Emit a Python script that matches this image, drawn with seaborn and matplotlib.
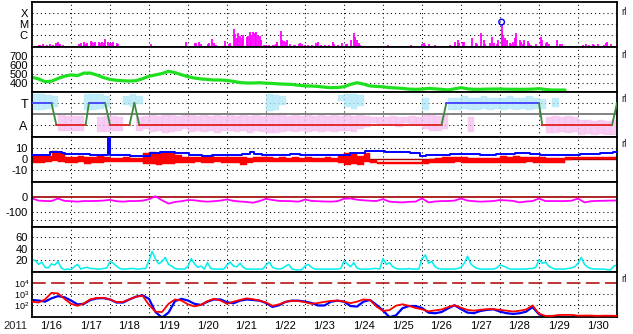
import numpy as np
import matplotlib
matplotlib.use("Agg")
import matplotlib.pyplot as plt
import seaborn as sns

sns.set_style("white")
plt.rcParams['font.family'] = ['Liberation Sans', 'DejaVu Sans']
plt.rcParams['mathtext.fontset'] = 'custom'
plt.rcParams['mathtext.rm'] = 'Liberation Sans'
plt.rcParams['mathtext.it'] = 'Liberation Sans'

nan = np.nan

# ---------------- data ----------------
year_label = "2011"
day_labels = ['1/16', '1/17', '1/18', '1/19', '1/20', '1/21', '1/22', '1/23',
              '1/24', '1/25', '1/26', '1/27', '1/28', '1/29', '1/30']
hours_4h = np.arange(0, 361, 4)      # hours since 2011-01-16 00:00
hours_2h = np.arange(0, 361, 2)
bin_left = np.arange(0, 360, 4)

# X-ray flux events (hour, W/m2)
xr_hour = [4, 5, 7, 9, 11, 13, 15, 16, 17, 19,
           29, 30, 32, 33, 34, 36, 37, 38, 39, 41, 42, 43, 44, 45, 47, 48, 49, 50, 52, 53,
           73,
           95, 100, 101, 103, 104, 108, 109, 111, 112, 113,
           119, 121, 122, 124, 125, 126, 127, 128, 129, 130, 132, 133, 134, 135, 136, 137, 138,
           139, 140, 141, 143, 144, 145, 146, 148, 149, 150, 151, 153, 154, 155, 156, 157, 159,
           161, 162, 164, 165, 166, 168, 170, 172, 175, 176, 178, 180, 183, 185, 186, 188, 191,
           193, 194, 196, 198, 199, 200, 201, 202,
           219, 233,
           240, 241, 242, 244, 248, 257, 260, 262, 263, 265, 266, 271, 273, 274, 276, 278, 279,
           282, 283, 284, 286, 287, 289, 290, 291, 292, 294, 295, 296, 297, 298, 300, 301, 302,
           303, 305, 306, 307, 310, 313, 314, 316, 317, 318, 323, 325, 326,
           339, 341, 343, 345, 346, 348, 352, 353, 354, 356]
xr_flux = [1.2e-7, 1.2e-7, 1.5e-7, 1.2e-7, 1.5e-7, 1.2e-7, 1.8e-7, 2.2e-7, 1.5e-7, 1.2e-7,
           1.5e-7, 1.8e-7, 2.2e-7, 1.5e-7, 1.8e-7, 2.8e-7, 2.2e-7, 1.8e-7, 2.2e-7, 2.2e-7,
           1.8e-7, 2.2e-7, 1.8e-7, 4.3e-7, 2.2e-7, 1.8e-7, 1.8e-7, 2.2e-7, 1.8e-7, 1.5e-7,
           1.5e-7,
           2.2e-7, 1.8e-7, 1.8e-7, 2.2e-7, 1.5e-7, 1.5e-7, 1.8e-7, 4.3e-7, 1.8e-7, 1.2e-7,
           2.8e-7, 1.5e-7, 1.8e-7, 3.5e-6, 1.2e-6, 5.2e-7, 1.5e-6, 8e-7, 5.2e-7, 1.0e-6,
           6.5e-7, 8e-7, 1.8e-6, 1.0e-6, 1.8e-6, 1.5e-6, 1.8e-6,
           8e-7, 8e-7, 3.5e-7, 1.2e-7, 1.2e-7, 1.0e-7, 1.2e-7, 1.2e-7, 1.2e-7, 1.5e-7, 2.2e-7,
           2.2e-6, 3.5e-7, 2.8e-7, 2.2e-7, 3.5e-7, 1.5e-7,
           1.2e-7, 1.2e-7, 1.5e-7, 1.8e-7, 1.5e-7, 1.2e-7, 1.2e-7, 1.2e-7, 1.8e-7, 2.2e-7,
           1.2e-7, 1.2e-7, 1.2e-7, 2.2e-7, 1.5e-7, 1.2e-7, 1.8e-7,
           1.5e-7, 1.5e-7, 3.5e-7, 1.5e-6, 6.5e-7, 3.5e-7, 1.8e-7, 1.2e-7,
           1.2e-7, 1.2e-7,
           1.5e-7, 1.8e-7, 1.2e-7, 1.5e-7, 1.2e-7, 1.2e-7, 2.2e-7, 3.5e-7, 1.8e-7, 2.2e-7,
           2.2e-7, 5.2e-7, 1.8e-7, 1.5e-7, 1.5e-6, 3.5e-7, 1.5e-7,
           1.8e-7, 6.5e-7, 1.8e-7, 1.5e-7, 3.5e-7, 8e-6, 1.0e-6, 5.2e-7, 3.5e-7, 1.8e-7,
           1.5e-7, 2.2e-7, 5.2e-7, 1.5e-6, 3.5e-7, 2.2e-7, 1.5e-7,
           3.5e-7, 2.8e-7, 1.8e-7, 1.2e-7, 1.5e-7, 6.5e-7, 3.5e-7, 1.8e-7, 2.2e-7, 1.5e-7,
           3.5e-7, 1.5e-7, 1.5e-7,
           1.2e-7, 1.5e-7, 1.2e-7, 1.5e-7, 1.2e-7, 1.5e-7, 1.2e-7, 1.8e-7, 2.2e-7, 1.5e-7]
flare_hour = [289]
flare_flux = [1.5e-5]

# Solar wind speed (km/s), 4-hour samples
speed = [465, 445, 415, 420, 450, 475, 490, 482, 510, 510,
         488, 460, 440, 430, 425, 422, 425, 448, 475, 490,
         505, 530, 515, 492, 470, 455, 445, 440, 433, 433,
         428, 418, 405, 400, 400, 403, 398, 395, 390, 387,
         384, 375, 368, 366, 362, 354, 348, 350, 358, 385,
         403, 388, 367, 362, 358, 348, 345, 340, 332, 330,
         332, 340, 335, 330, 323, 335, 348, 335, 330, 330,
         332, 333, 333, 331, 330, 330, 330, 332, 337, 328,
         322, 322, 322, nan, nan, nan, nan, nan, nan, nan, nan]

# IMF sector (T = +1, A = -1)
sector_hour = [0, 12, 15, 33, 35, 45, 48, 60, 63, 66, 252, 255, 312, 314, 357, 360]
sector_val = [1, 1, -1, -1, 1, 1, -1, -1, 1, -1, -1, 1, 1, -1, -1, 1]

# sector-angle scatter ranges per 4-hour bin
tow_hi = [1.8, 1.8, 1.7, 1.6, nan, nan,  nan, nan, 1.8, 1.8, 1.8, 1.6,
          nan, nan, 1.6, 1.8, 1.6, nan] + [nan] * 18 + \
         [1.8, 1.7, 1.6, nan, nan, nan,  nan, nan, nan, nan, nan, 1.7,
          1.8, 1.8, 1.7, nan, nan, nan,  nan, nan, nan, nan, nan, nan,
          1.45, nan, nan, nan, 1.5, 1.5,  1.6, 1.5, 1.5, 1.6, 1.5, 1.5,
          1.5, 1.6, 1.5, 1.5, 1.6, 1.5,  1.4, nan, 1.45, nan, nan, nan] + [nan] * 6
tow_lo = [0.4, 0.4, 0.5, 0.6, nan, nan,  nan, nan, 0.4, 0.4, 0.5, 0.6,
          nan, nan, 0.8, 0.6, 0.9, nan] + [nan] * 18 + \
         [0.3, 0.4, 0.8, nan, nan, nan,  nan, nan, nan, nan, nan, 1.2,
          0.6, 0.5, 0.7, nan, nan, nan,  nan, nan, nan, nan, nan, nan,
          0.4, nan, nan, nan, 0.4, 0.4,  0.5, 0.4, 0.4, 0.5, 0.4, 0.45,
          0.4, 0.5, 0.4, 0.45, 0.4, 0.5,  0.5, nan, 0.6, nan, nan, nan] + [nan] * 6
away_hi = [nan, nan, nan, nan, -0.1, -0.2,  -0.2, -0.2, nan, nan, -0.3, -0.2,
           -0.2, -0.3, nan, nan, -0.3, -0.2,  -0.1, -0.2, -0.1, 0.0, -0.2, -0.1,
           -0.1, -0.2, -0.1, -0.2, -0.1, -0.2,  -0.1, -0.2, -0.1, -0.2, -0.1, -0.2,
           0.1, 0.0, 0.1, -0.2, -0.1, -0.2,  -0.1, -0.2, -0.1, -0.2, -0.1, -0.2,
           -0.1, -0.2, -0.1, -0.2, -0.3, -0.3,  -0.3, -0.2, -0.3, -0.3, -0.2, -0.3,
           -0.1, -0.1, -0.2, -0.1, nan, nan,  nan, -0.3, nan, nan, nan, nan,
           nan, nan, nan, nan, nan, nan,  nan, -0.3, -0.2, -0.3, -0.2, -0.3,
           -0.5, -0.5, -0.6, -0.5, -0.6, -0.5]
away_lo = [nan, nan, nan, nan, -1.5, -1.5,  -1.5, -1.5, nan, nan, -1.6, -1.6,
           -1.5, -1.5, nan, nan, -1.5, -1.4,  -1.6, -1.5, -1.7, -1.6, -1.5, -1.4,
           -1.6, -1.5, -1.6, -1.5, -1.7, -1.5,  -1.5, -1.6, -1.5, -1.7, -1.5, -1.6,
           -1.7, -1.7, -1.6, -1.5, -1.6, -1.5,  -1.6, -1.5, -1.6, -1.5, -1.6, -1.5,
           -1.5, -1.6, -1.4, -1.2, -0.8, -0.9,  -1.0, -0.9, -1.2, -0.8, -0.9, -1.0,
           -1.4, -1.5, -1.5, -1.4, nan, nan,  nan, -1.6, nan, nan, nan, nan,
           nan, nan, nan, nan, nan, nan,  nan, -1.7, -1.7, -1.6, -1.7, -1.6,
           -1.9, -1.8, -1.9, -1.8, -1.9, -1.9]

# IMF Bt (nT), step samples
bt_hour = [0, 11, 18.5, 20.4, 35.8, 46.5, 47.7, 48.7, 60.2, 72.7, 78.7, 88.1, 96.7, 104.6,
           110.9, 121.9, 129.1, 134.2, 136.6, 141.6, 158.9, 164.9, 195.6, 205, 217.2, 232.6,
           238.8, 242.4, 257.3, 275.8, 285.6, 297.1, 306.5, 312.7, 321.8, 337.2, 349.4,
           357.6, 360]
bt_val = [3.6, 6.2, 5.0, 4.5, 4.0, 25, 4.0, 3.6, 3.0, 5.4, 6.6, 5.4, 3.6, 2.7,
          3.2, 3.6, 4.5, 6.0, 4.5, 3.6, 4.5, 3.6, 5.7, 7.5, 6.6, 5.4,
          2.7, 3.6, 4.2, 3.6, 4.5, 5.7, 4.5, 3.6, 3.3, 4.2, 5.0,
          6.0, 6.0]
# IMF Bz (nT) min / max per 4-hour bin
bz_hi = [2.5, 2.5, 3, 7.5, 5, 2,   2, 2.5, 1.5, 2, 2.5, 2,   1, 1, 1.5, 1, 1, 5,
         6, 5, 6, 5.5, 4, 2,   2, 1.5, 2, 2.5, 1.5, 2,   2, 2, 1.5, 1, 2, 1.5,
         1.5, 1, 1.5, 1, 1.5, 1,   1.5, 1, 1, 1.5, 1, 4,   5, 4.5, 3, 5.7, -1, -2.5,
         -2.5, -2.5, -2.5, -3, -2.5, -2.5,   -1, 0, 0.5, 2, 2, 1.5,   2, 0.5, 1, 0.5, 1, 0.5,
         2.5, 2, 2.5, 1.5, 1.5, 1.5,   2, 0.5, 0.5, 0.5, 2, 2,   2, 2, 2, 2, 2, 2]
bz_lo = [-3.5, -3.5, -3, -2, -3, -3.5,   -4, -3, -5, -3.5, -4, -3,   -3, -3, -2.5, -3, -3, -5,
         -5, -5.5, -4.5, -5, -4, -3.5,   -3.5, -3, -4, -3.5, -3, -3.5,   -4, -3.5, -5.5, -4, -3, -3,
         -3, -2.5, -3, -3, -2.5, -3,   -3, -3, -2.5, -3, -3, -4,   -5.5, -5, -5.5, -3, -4, -4.5,
         -4.5, -4.5, -4.5, -4.5, -4.5, -4.5,   -4.5, -4, -4, -3.5, -3.5, -3,   -3.5, -4, -3.5, -4, -3.5, -3.5,
         -4, -3.5, -4, -3.5, -3, -3.5,   -3.5, -4, -4, -3.5, -0.5, -0.3,   -0.3, -0.3, -0.3, -0.3, -0.3, -0.3]

# Dst (nT), 4-hour samples
dst = [-9, -24, -27, -27, -10, -26, -28, -31, -27, -27,
       -26, -24, -19, -28, -31, -27, -27, -24, -15, 5,
       -22, -44, -33, -28, -20, -22, -28, -31, -28, -24,
       -16, -26, -30, -33, -38, -27, -12, -20, -26, -27,
       -28, -31, -17, -26, -28, -30, -31, -28, -12, -10,
       -18, -22, -25, -27, -14, -31, -34, -36, -32, -31,
       -9, -36, -30, -27, -27, -24, -10, -24, -28, -31,
       -29, -27, -20, -23, -26, -36, -30, -27, -10, -27,
       -27, -27, -27, -25, -10, -36, -28, -26, -25, -24, -23]

# activity index, 2-hour samples
activity = [20, 20, 13, 17, 8, 7, 14, 12, 18, 7, 4, 5,
            4, 9, 13, 5, 7, 8, 6, 6, 5, 5, 6, 7,
            18, 15, 10, 6, 5, 5, 6, 6, 5, 5, 6, 6,
            20, 35, 22, 14, 18, 25, 13, 10, 6, 5, 5, 5,
            10, 23, 14, 8, 10, 5, 16, 6, 5, 5, 5, 5,
            12, 17, 10, 9, 15, 8, 5, 5, 5, 5, 5, 5,
            12, 17, 8, 6, 5, 6, 10, 13, 5, 4, 3.5, 4,
            10, 13, 8, 5, 5, 5, 5, 5, 5, 5, 5, 6,
            19, 14, 9, 16, 7, 5, 5, 5, 5, 6, 6, 5,
            23, 13, 16, 9, 6, 5, 5, 5, 6, 5, 5, 5,
            23, 29, 15, 18, 9, 6, 5, 5, 5, 5, 5, 6,
            8, 15, 27, 14, 9, 6, 5, 5, 5, 5, 5, 7,
            12, 10, 8, 5, 5, 5, 5, 5, 5, 6, 6, 8,
            21, 15, 17, 10, 7, 5, 5, 5, 5, 6, 7, 9,
            15, 25, 13, 8, 6, 5, 5, 5, 5, 4, 3.5, 10,
            12]

# electron flux, log10, 4-hour samples
e_red_log = [2.3, 2.22, 2.5, 3.1, 3.05, 2.55, 2.1, 1.92, 2.15, 2.52,
             2.63, 2.65, 2.5, 2.25, 2.28, 2.52, 2.75, 2.85, 2.0, 1.38,
             1.35, 2.1, 2.5, 2.4, 2.05, 1.87, 2.0, 2.35, 2.55, 2.4,
             2.1, 2.3, 2.45, 2.6, 2.52, 2.4, 2.22, 1.92, 2.05, 2.28,
             2.38, 2.36, 2.25, 2.1, 2.18, 2.28, 2.37, 2.39, 2.3, 2.16,
             2.3, 2.5, 2.45, 1.85, 1.45, 1.53, 1.93, 2.06, 1.92, 1.72,
             1.6, 1.42, 1.5, 1.58, 1.8, 1.97, 1.75, 1.54, 1.48, 1.56,
             1.61, 1.61, 1.55, 1.48, 1.4, 1.47, 1.58, 1.95, 1.2, 1.0,
             1.0, 1.08, 1.09, 1.09, 1.02, 1.03, 1.03, 1.0, 1.02, 1.02, 1.0]
e_blue_log = [2.45, 2.4, 2.3, 2.6, 2.8, 2.7, 2.4, 2.05, 2.1, 2.45,
              2.6, 2.62, 2.5, 2.22, 2.22, 2.5, 2.75, 2.88, 2.55, 1.35,
              0.85, 1.3, 2.35, 2.55, 2.4, 2.1, 2.0, 2.3, 2.5, 2.5,
              2.25, 2.15, 2.39, 2.5, 2.45, 2.39, 2.18, 1.82, 1.97, 2.28,
              2.39, 2.39, 2.3, 2.18, 1.95, 1.95, 2.3, 2.39, 2.3, 1.9,
              1.85, 2.3, 2.45, 2.0, 1.5, 0.88, 1.05, 1.7, 1.9, 1.9,
              1.72, 1.3, 1.24, 1.35, 1.68, 1.97, 1.62, 1.3, 1.25, 1.45,
              1.55, 1.6, 1.39, 1.25, 1.18, 1.24, 1.38, 1.8, 1.15, 0.88,
              0.85, 0.85, 0.85, 0.85, 0.85, 0.85, 0.85, 0.85, 0.85, 0.85, 0.85]
e_alert = 1e4

# ---------------- figure ----------------
W, H = 633, 334
fig = plt.figure(figsize=(W / 100, H / 100), dpi=100)
fig.patch.set_facecolor('white')
left_px, right_px = 32, 617
tops = [2, 47, 92, 137, 182, 227, 272]
panel_h = 45
FS = 8
dot = (0, (1, 3))


def make_ax(top):
    ax = fig.add_axes([left_px / W, 1 - (top + panel_h) / H,
                       (right_px - left_px) / W, panel_h / H])
    ax.set_xlim(0, 360)
    for s in ax.spines.values():
        s.set_color('black')
        s.set_linewidth(1.3)
    ax.tick_params(axis='both', length=0, labelsize=FS, pad=3, colors='black')
    ax.set_xticks([])
    for d in range(1, 15):
        ax.axvline(24 * d, color='black', lw=0.75, ls=dot, zorder=0.5)
    return ax


def hgrid(ax, vals):
    for v in vals:
        ax.axhline(v, color='black', lw=0.75, ls=dot, zorder=0.5)


def right_tag(ax, yval):
    ax.annotate('rl', xy=(1.0, yval), xycoords=('axes fraction', 'data'),
                xytext=(3, 1), textcoords='offset points', fontsize=7,
                va='center', ha='left')


axes = [make_ax(t) for t in tops]

# 1) X-ray
ax = axes[0]
ax.set_yscale('log')
ax.set_ylim(10 ** -7.1, 10 ** -3.0)
ax.vlines(xr_hour, 1e-9, xr_flux, color='#ff00ff', lw=1.3, zorder=2)
ax.scatter(flare_hour, flare_flux, s=16, facecolors='none', edgecolors='#0000ff',
           linewidths=1.0, zorder=3)
ax.set_yticks([1e-4, 1e-5, 1e-6], ['X', 'M', 'C'])
ax.yaxis.set_minor_locator(matplotlib.ticker.NullLocator())
hgrid(ax, [1e-4, 1e-5, 1e-6])
right_tag(ax, 1e-4)

# 2) solar wind speed
ax = axes[1]
sns.lineplot(x=hours_4h, y=speed, ax=ax, color='#1ee01e', lw=2.3, zorder=2)
ax.set_ylim(300, 800)
ax.set_yticks([700, 600, 500, 400], ['700', '600', '500', '400'])
hgrid(ax, [700, 600, 500, 400])
right_tag(ax, 700)

# 3) sector
ax = axes[2]
ax.set_ylim(-2.09, 2.0)
th = np.array(tow_hi) - np.array(tow_lo)
ax.bar(bin_left, th, bottom=tow_lo, width=4, align='edge', color='#aee6f8',
       edgecolor='#aee6f8', lw=0.3, alpha=0.75, zorder=1)
ah = np.array(away_hi) - np.array(away_lo)
ax.bar(bin_left, ah, bottom=away_lo, width=4, align='edge', color='#f6bdf0',
       edgecolor='#f6bdf0', lw=0.3, alpha=0.75, zorder=1)
ax.axhline(0, color='#808080', lw=1.4, zorder=2)
for i in range(len(sector_hour) - 1):
    v0, v1 = sector_val[i], sector_val[i + 1]
    if v0 == v1 == 1:
        c = '#4040ff'
    elif v0 == v1 == -1:
        c = '#e02020'
    else:
        c = '#3a8a3a'
    ax.plot(sector_hour[i:i + 2], sector_val[i:i + 2], color=c, lw=1.3, zorder=3)
ax.set_yticks([1, -1], ['T', 'A'])
ax.tick_params(axis='y', labelsize=9)
hgrid(ax, [1, -1])
right_tag(ax, 1.25)

# 4) IMF
ax = axes[3]
ax.set_ylim(-21, 20)
hgrid(ax, [10, -10])
ax.axhline(0, color='#a00000', lw=1.0, zorder=1)
bh = np.array(bz_hi) - np.array(bz_lo)
ax.bar(bin_left, bh, bottom=bz_lo, width=4, align='edge', color='#ff0000',
       edgecolor='#ff0000', lw=0.3, zorder=2)
sns.lineplot(x=bt_hour, y=bt_val, ax=ax, color='#0000ff', lw=1.4,
             drawstyle='steps-post', zorder=3, sort=False)
ax.set_yticks([10, 0, -10], ['10', '0', '-10'])
right_tag(ax, 12)

# 5) Dst
ax = axes[4]
ax.set_ylim(-200, 100)
hgrid(ax, [-100, -150])
ax.axhline(0, color='#a00000', lw=1.2, zorder=1)
sns.lineplot(x=hours_4h, y=dst, ax=ax, color='#ff00ff', lw=1.3, zorder=2)
ax.set_yticks([0, -100], ['0', '-100'])

# 6) activity index
ax = axes[5]
ax.set_ylim(0, 77)
hgrid(ax, [60, 40, 20])
sns.lineplot(x=hours_2h, y=activity, ax=ax, color='#00eeee', lw=1.1, zorder=2)
ax.set_yticks([60, 40, 20], ['60', '40', '20'])

# 7) electron flux
ax = axes[6]
ax.set_yscale('log')
ax.set_ylim(10 ** 0.9, 10 ** 5.0)
hgrid(ax, [1e3, 1e2])
ax.axhline(e_alert, color='#b00000', lw=1.1, ls=(0, (9, 3.5)), zorder=1)
sns.lineplot(x=hours_4h, y=10 ** np.array(e_blue_log), ax=ax, color='#0000ff',
             lw=1.6, zorder=2)
sns.lineplot(x=hours_4h, y=10 ** np.array(e_red_log), ax=ax, color='#ff0000',
             lw=1.3, zorder=3)
ax.set_yticks([1e4, 1e3, 1e2], [r'$10^4$', r'$10^3$', r'$10^2$'])
ax.tick_params(axis='y', labelsize=6.5, pad=2)
ax.yaxis.set_minor_locator(matplotlib.ticker.NullLocator())
right_tag(ax, 1.6e4)
ax.set_xticks(np.arange(12, 360, 24), day_labels)
ax.tick_params(axis='x', labelsize=FS, pad=3)
ax.text(-0.0496, -0.2, year_label, transform=ax.transAxes, fontsize=FS,
        ha='left', va='center')

for a in axes:
    a.set_xlim(0, 360)
    a.set_xlabel('')
    a.set_ylabel('')
    if a.get_legend() is not None:
        a.get_legend().remove()

fig.savefig('out.png', dpi=100, facecolor='white')
